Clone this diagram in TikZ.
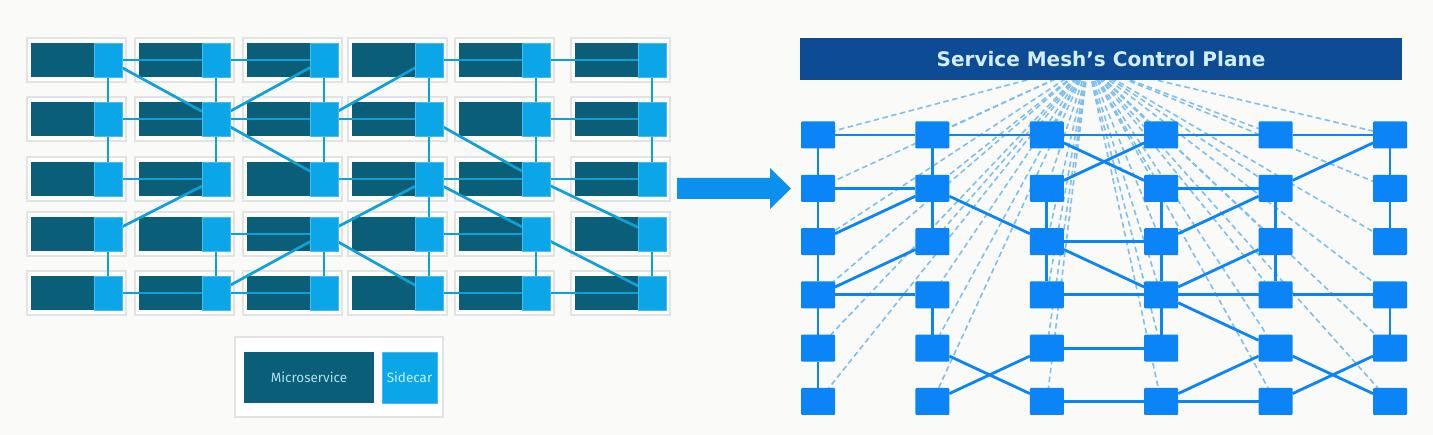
\documentclass[tikz,border=0pt]{standalone}
\usepackage{fontspec}
\setmainfont{DejaVu Sans}
\newfontfamily\legfont{Fira Sans}
\newfontfamily\hdrfont{DejaVu Sans}
\definecolor{bgc}{HTML}{FAFAF8}
\definecolor{msdark}{HTML}{0B5E78}
\definecolor{sidec}{HTML}{0AA6E8}
\definecolor{lline}{HTML}{10A0D8}
\definecolor{frm}{HTML}{E2E4E4}
\definecolor{sqc}{HTML}{0A84F6}
\definecolor{dshc}{HTML}{80BFEC}
\definecolor{hdrc}{HTML}{0D4C94}
\definecolor{hdrtxt}{HTML}{D2EEFA}
\definecolor{arrc}{HTML}{0B90EE}
\definecolor{legms}{HTML}{AEE0F2}
\definecolor{legsc}{HTML}{C4F4FF}
\pgfdeclarelayer{bgl}
\pgfdeclarelayer{back}
\pgfdeclarelayer{mid}
\pgfsetlayers{bgl,back,mid,main}
\tikzset{
  unitframe/.style={draw=frm, line width=1.2pt, fill=white, minimum width=99pt, minimum height=44pt, inner sep=0pt, outer sep=0pt},
  msbox/.style={fill=msdark, minimum width=63pt, minimum height=34pt, inner sep=0pt, outer sep=0pt},
  scbox/.style={fill=sidec, draw=sidec!75!white, line width=0.6pt, minimum width=28pt, minimum height=34pt, inner sep=0pt, outer sep=0pt},
  lconn/.style={draw=lline, line width=2.7pt},
  sqbox/.style={fill=sqc, rounded corners=1pt, minimum width=34pt, minimum height=27pt, inner sep=0pt, outer sep=0pt},
  rconn/.style={draw=sqc, line width=2.8pt},
  dconn/.style={draw=dshc, line width=1.6pt, dash pattern=on 5.5pt off 3.5pt},
}
\begin{document}
\begin{tikzpicture}[x=1pt,y=-1pt]
\begin{pgfonlayer}{bgl}
  \fill[bgc] (0,0) rectangle (1433,435);
\end{pgfonlayer}
% ---------- left: microservices with sidecars ----------
\begin{pgfonlayer}{back}
\foreach \c/\dx in {1/31,2/139,3/247,4/352,5/459,6/575} {
  \foreach \r/\ty in {1/43,2/102,3/162,4/217,5/276} {
    \node[unitframe] (f\r\c) at (\dx+45.5,\ty+17) {};
    \node[msbox] (m\r\c) at (\dx+31.5,\ty+17) {};
  }
}
\end{pgfonlayer}
\foreach \c/\dx in {1/31,2/139,3/247,4/352,5/459,6/575} {
  \foreach \r/\ty in {1/43,2/102,3/162,4/217,5/276} {
    \node[scbox] (s\r\c) at (\dx+77,\ty+17) {};
  }
}
\begin{pgfonlayer}{mid}
\foreach \a/\b in {s11/s12,s12/s13,s14/s15,s15/s16,
                   s21/s22,s22/s23,s23/s24,s25/s26,
                   s31/s32,s33/s34,s34/s35,s35/s36,
                   s42/s43,s44/s45,
                   s51/s52,s52/s53,s54/s55,s55/s56,
                   s11/s21,s21/s31,s41/s51,
                   s12/s22,s22/s32,s42/s52,
                   s13/s23,s23/s33,s43/s53,
                   s14/s24,s24/s34,s34/s44,s44/s54,
                   s15/s25,s25/s35,s45/s55,
                   s16/s26,s26/s36,s46/s56,
                   s11/s22,s22/s13,s22/s33,s23/s14,s24/s35,s32/s41,
                   s43/s34,s43/s54,s52/s43,s34/s45,s35/s46,s45/s56}
  \draw[lconn] (\a) -- (\b);
\end{pgfonlayer}
% legend
\begin{pgfonlayer}{back}
\node[unitframe, minimum width=208pt, minimum height=80pt] (legframe) at (339,377) {};
\end{pgfonlayer}
\node[msbox, minimum width=130pt, minimum height=51pt, text=legms, font=\legfont\fontsize{13.5}{15}\selectfont] (legms) at (309,377.5) {Microservice};
\node[scbox, minimum width=55pt, minimum height=51pt, text=legsc, font=\legfont\fontsize{13.5}{15}\selectfont] (legsc) at (409.5,377.5) {Sidecar};
% ---------- arrow ----------
\fill[arrc] (677,178) -- (770,178) -- (770,168) -- (791,188.5) -- (770,209) -- (770,199) -- (677,199) -- cycle;
% ---------- right: service mesh ----------
\coordinate (cp) at (1088,64);
\node[fill=hdrc, minimum width=602pt, minimum height=42pt, inner sep=0pt, text=hdrtxt, font=\hdrfont\bfseries\fontsize{20}{22}\selectfont] (hdr) at (1101,59) {Service Mesh’s Control Plane};
\foreach \c in {1,...,6} {
  \foreach \r in {1,...,6} {
    \node[sqbox] (q\r\c) at ({818+114.4*(\c-1)},{135+53.3*(\r-1)}) {};
  }
}
\begin{pgfonlayer}{back}
\foreach \c in {1,...,6} {
  \foreach \r in {1,...,6} {
    \draw[dconn] (cp) -- (q\r\c);
  }
}
\end{pgfonlayer}
\begin{pgfonlayer}{mid}
\foreach \a/\b in {q11/q12,q12/q13,q13/q14,q14/q15,q15/q16,
                   q21/q22,q24/q25,
                   q33/q34,
                   q41/q42,q43/q44,q44/q45,q45/q46,
                   q53/q54,
                   q63/q64,q64/q65,
                   q11/q21,q21/q31,q31/q41,q41/q51,q51/q61,
                   q12/q22,q22/q32,q42/q52,
                   q23/q33,q33/q43,
                   q24/q34,q34/q44,q44/q54,
                   q25/q35,q35/q45,
                   q16/q26,q26/q36,q46/q56,
                   q22/q31,q32/q41,q22/q33,q52/q63,q62/q53,
                   q13/q24,q23/q14,q33/q44,q34/q25,q44/q35,q44/q55,
                   q64/q55,q25/q16,q55/q66,q65/q56}
  \draw[rconn] (\a) -- (\b);
\end{pgfonlayer}
\end{tikzpicture}
\end{document}
